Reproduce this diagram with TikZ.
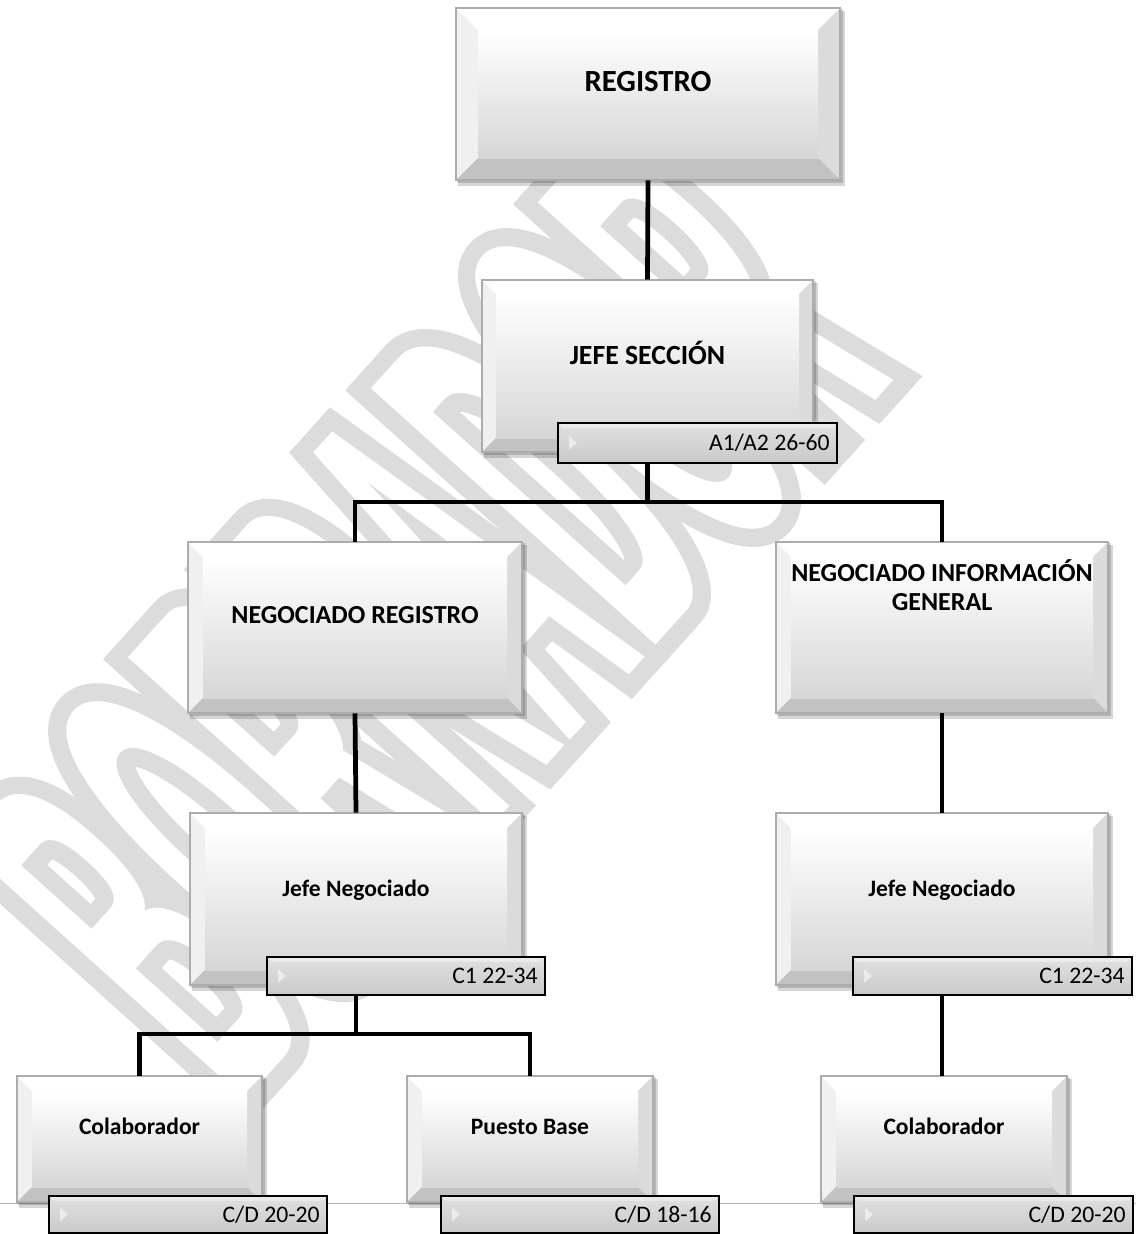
\documentclass[tikz,border=0pt]{standalone}
\usepackage{fontspec}
\setmainfont{Carlito}
\newfontfamily\wmfont{Liberation Sans}[FakeStretch=0.3]
\newfontfamily\wmfontbold{Liberation Sans}[FakeStretch=0.3,FakeBold=6.5]
\definecolor{wmgray}{HTML}{DCDCDC}

\newcommand\bevbox[6]{% name, x1, y1, x2, y2, bevel
  \fill[black,opacity=.16] ({#2+2},{#3+3}) rectangle ({#4+5},{#5+6});
  \fill[black,opacity=.16] ({#2+1},{#3+1}) rectangle ({#4+2.5},{#5+3});
  \shade[top color=white,bottom color=gray!40] (#2,#3) rectangle (#4,#5);
  \fill[gray!12] (#2,#3) -- ({#2+#6},{#3+#6}) -- ({#2+#6},{#5-#6}) -- (#2,#5) -- cycle;
  \fill[white] (#2,#3) -- ({#2+#6},{#3+#6}) -- ({#4-#6},{#3+#6}) -- (#4,#3) -- cycle;
  \fill[gray!28] (#4,#3) -- ({#4-#6},{#3+#6}) -- ({#4-#6},{#5-#6}) -- (#4,#5) -- cycle;
  \fill[gray!48] (#2,#5) -- ({#2+#6},{#5-#6}) -- ({#4-#6},{#5-#6}) -- (#4,#5) -- cycle;
  \shade[top color=white,bottom color=gray!32] ({#2+#6},{#3+#6}) rectangle ({#4-#6},{#5-#6});
  \draw[gray!65,line width=.6pt] (#2,#3) rectangle (#4,#5);
  \node[inner sep=0,minimum width={(#4-#2)*0.02cm},minimum height={(#5-#3)*0.02cm}] (#1) at ({(#2+#4)/2},{(#3+#5)/2}) {};
}
\newcommand\lblbox[6]{% name, x1, y1, x2, y2, text
  \shade[top color=gray!24,bottom color=gray!42] (#2,#3) rectangle (#4,#5);
  \fill[white,opacity=.35] (#2,#3) -- (#4,#3) -- ({#4-5},{#3+5}) -- ({#2+5},{#3+5}) -- cycle;
  \fill[white,opacity=.55] ({#2+11},{(#3+#5)/2-7}) -- ({#2+19},{(#3+#5)/2}) -- ({#2+11},{(#3+#5)/2+7}) -- cycle;
  \draw[black,line width=1.3pt] (#2,#3) rectangle (#4,#5);
  \node[inner sep=0,minimum width={(#4-#2)*0.02cm},minimum height={(#5-#3)*0.02cm}] (#1) at ({(#2+#4)/2},{(#3+#5)/2}) {};
  \node[lbltext] (#1-t) at ({#4-7},{(#3+#5)/2+7.5}) {#6};
}

\begin{document}
\begin{tikzpicture}[x=0.02cm,y=-0.02cm,
  conn/.style={line width=2.7pt,draw=black},
  boxtext/.style={anchor=base,align=center,inner sep=0,text=black},
  lbltext/.style={anchor=base east,inner sep=0,text=black,font=\fontsize{13.5}{16}\selectfont},
  big/.style={font=\bfseries\fontsize{17.5}{21}\selectfont},
  mid/.style={font=\bfseries\fontsize{15.8}{19}\selectfont},
  med/.style={font=\bfseries\fontsize{14.8}{16.4}\selectfont},
  small/.style={font=\bfseries\fontsize{13.4}{16}\selectfont}]
\fill[white] (0,0) rectangle (1136,1234);
\useasboundingbox (0,0) rectangle (1136,1234);

% watermark (outlined letters)
\node[rotate=48,inner sep=0,text=wmgray] (wm) at (425,615)
  {\wmfontbold\bfseries\fontsize{317}{317}\selectfont BORRADOR};
\node[rotate=48,inner sep=0,text=white] (wm-in) at (wm.center)
  {\wmfont\bfseries\fontsize{317}{317}\selectfont BORRADOR};

% page line
\coordinate (hl) at (0,1203);
\coordinate (hr) at (1136,1203);
\draw[gray!55,line width=.5pt] (hl) -- (hr);

% boxes
\bevbox{reg}{456}{8}{840}{180}{22}
\node[boxtext,big] (reg-t) at ({(456+840)/2},91) {REGISTRO};

\bevbox{jsec}{482}{280}{813}{452}{14}
\node[boxtext,mid] (jsec-t) at ({(482+813)/2},364) {JEFE SECCIÓN};
\lblbox{jsecL}{558}{423}{837}{463}{A1/A2 26-60}

\bevbox{nreg}{188}{542}{522}{713}{15}
\node[boxtext,med] (nreg-t) at ({(188+522)/2},623) {NEGOCIADO REGISTRO};

\bevbox{ninf}{776}{542}{1108}{713}{15}
\node[boxtext,med] (ninf-t) at ({(776+1108)/2},610) {NEGOCIADO INFORMACIÓN\\GENERAL};

\bevbox{jnL}{190}{813}{522}{985}{15}
\node[boxtext,small] (jnL-t) at ({(190+522)/2},896) {Jefe Negociado};
\lblbox{jnLl}{267}{957}{545}{995}{C1 22-34}

\bevbox{jnR}{776}{813}{1108}{985}{15}
\node[boxtext,small] (jnR-t) at ({(776+1108)/2},896) {Jefe Negociado};
\lblbox{jnRl}{853}{957}{1132}{995}{C1 22-34}

\bevbox{colL}{17}{1076}{262}{1202}{15}
\node[boxtext,small] (colL-t) at ({(17+262)/2},1134) {Colaborador};
\lblbox{colLl}{49}{1196}{327}{1233}{C/D 20-20}

\bevbox{pb}{407}{1076}{653}{1202}{15}
\node[boxtext,small] (pb-t) at ({(407+653)/2},1134) {Puesto Base};
\lblbox{pbl}{441}{1196}{719}{1233}{C/D 18-16}

\bevbox{colR}{821}{1076}{1067}{1202}{15}
\node[boxtext,small] (colR-t) at ({(821+1067)/2},1134) {Colaborador};
\lblbox{colRl}{854}{1196}{1133}{1233}{C/D 20-20}

% connectors
\coordinate (bar1) at (0,502);
\coordinate (bar2) at (0,1034);
\draw[conn] (reg.south) -- (jsec.north);
\draw[conn] (jsec.south |- jsecL.south) -- (jsec.south |- bar1);
\draw[conn] (nreg.north) -- (nreg.north |- bar1) -- (ninf.north |- bar1) -- (ninf.north);
\draw[conn] (nreg.south) -- (jnL.north);
\draw[conn] (ninf.south) -- (jnR.north);
\draw[conn] (jnL.south |- jnLl.south) -- (jnL.south |- bar2);
\draw[conn] (colL.north) -- (colL.north |- bar2) -- (pb.north |- bar2) -- (pb.north);
\draw[conn] (jnR.south |- jnRl.south) -- (jnR.south |- colR.north);
\end{tikzpicture}
\end{document}
